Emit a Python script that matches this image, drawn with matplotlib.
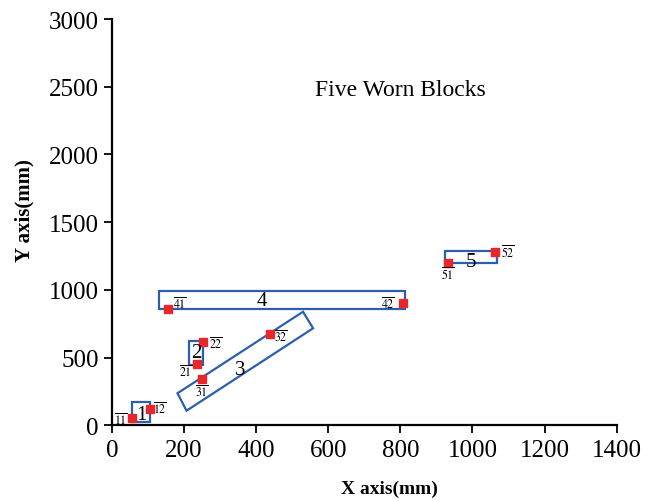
import matplotlib
matplotlib.use('Agg')
from matplotlib import pyplot as plt
from matplotlib.patches import Polygon

plt.rcParams['font.family'] = ['Liberation Serif', 'DejaVu Serif']
plt.rcParams['mathtext.fontset'] = 'stix'

# measured points (mm)
point_names = ['11', '12', '21', '22', '31', '32', '41', '42', '51', '52']
point_x = [55, 105, 235, 253, 249, 438, 155, 808, 933, 1062]
point_y = [52, 123, 451, 611, 340, 677, 857, 901, 1197, 1281]
# where the small point labels sit
name_x = [24, 133, 205, 288, 249, 470, 189, 766, 933, 1099]
name_y = [44, 126, 401, 606, 246, 655, 902, 902, 1116, 1281]

# worn block outlines (corner coordinates, mm)
block_names = ['1', '2', '3', '4', '5']
block_cx = [[55, 105, 105, 55],
            [214, 253, 253, 214],
            [182, 207, 558, 530],
            [130, 812, 812, 130],
            [924, 1067, 1067, 924]]
block_cy = [[20, 20, 175, 175],
            [445, 445, 623, 623],
            [236, 107, 716, 838],
            [857, 857, 993, 993],
            [1197, 1197, 1288, 1288]]
block_lx = [82, 233, 355, 415, 997]
block_ly = [81, 540, 414, 919, 1207]

fig = plt.figure(figsize=(6.66, 5.02), dpi=100)
ax = fig.add_axes([0.168, 0.151, 0.758, 0.809])

for cx, cy in zip(block_cx, block_cy):
	poly = Polygon(list(zip(cx, cy)), closed=True, fill=False,
	               edgecolor='#2b5fae', linewidth=1.6, zorder=2)
	ax.add_patch(poly)

ax.plot(point_x, point_y, 's', color='#e8272a', markersize=6, zorder=3)

for n, x, y in zip(point_names, name_x, name_y):
	ax.text(x, y, r'$\overline{%s}$' % n, fontsize=8.5, ha='center', va='center')

for n, x, y in zip(block_names, block_lx, block_ly):
	ax.text(x, y, n, fontsize=15, ha='center', va='center')

ax.text(800, 2480, 'Five Worn Blocks', fontsize=17, ha='center', va='center')

ax.set_xlim(0, 1400)
ax.set_ylim(0, 3000)
ax.set_xticks(range(0, 1401, 200))
ax.set_yticks(range(0, 3001, 500))
ax.spines['top'].set_visible(False)
ax.spines['right'].set_visible(False)
ax.spines['left'].set_linewidth(1.6)
ax.spines['bottom'].set_linewidth(1.6)
ax.tick_params(direction='out', length=6, width=1.3, labelsize=18)
ax.tick_params(axis='x', pad=4)
ax.set_xlabel('X axis(mm)', fontsize=14, fontweight='bold')
ax.set_ylabel('Y axis(mm)', fontsize=15, fontweight='bold')
ax.xaxis.set_label_coords(0.55, -0.135)
ax.yaxis.set_label_coords(-0.154, 0.53)

fig.savefig('out.png', dpi=100)
